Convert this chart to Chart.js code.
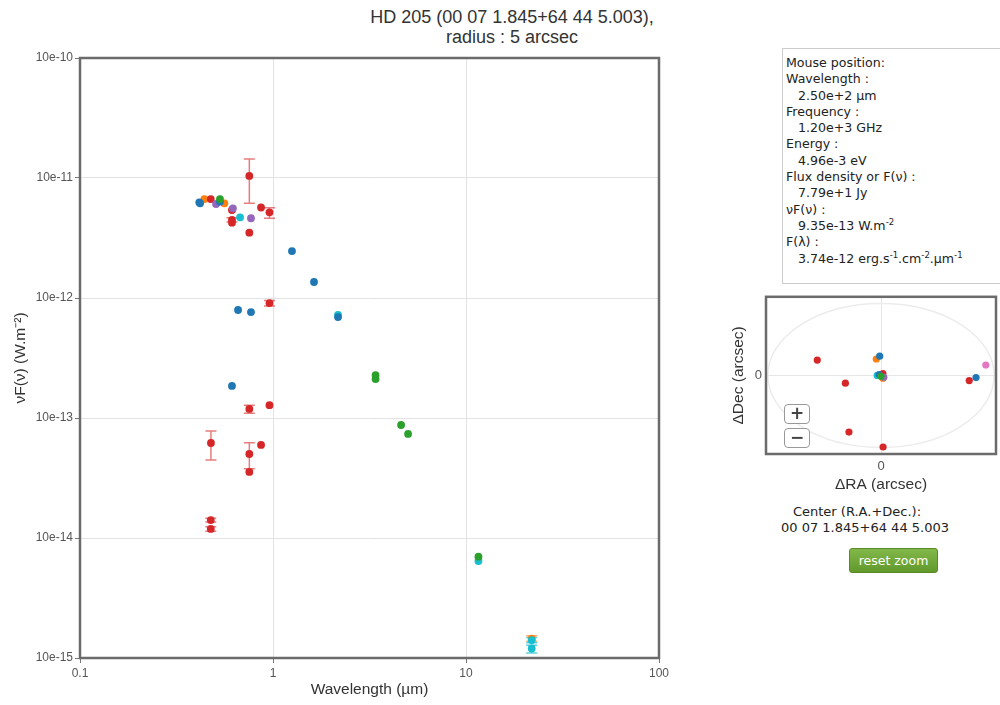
<!DOCTYPE html>
<html>
<head>
<meta charset="utf-8">
<script src="https://cdn.jsdelivr.net/npm/chart.js"></script>
<style>
  html, body { margin: 0; padding: 0; background: #fff; overflow: hidden; }
  body { width: 1000px; height: 705px; position: relative; font-family: 'DejaVu Sans', sans-serif; color: #222; }
  #sedTitle { position: absolute; left: 312px; top: 7px; width: 400px; text-align: center;
    font: 18px/20px 'Liberation Sans', Arial, sans-serif; color: #333; }
  #sed { position: absolute; left: 0; top: 0; }
  #pos { position: absolute; left: 726px; top: 285px; }
  #info { position: absolute; left: 782px; top: 48px; width: 240px; height: 236px; box-sizing: border-box;
    border: 1px solid #ccc; padding: 6px 0 0 3px; font-size: 12.6px; line-height: 16.3px; color: #222; }
  #info .v { padding-left: 12px; }
  #info sup { font-size: 8.5px; line-height: 0; vertical-align: 5px; }
  .zbtn { position: absolute; left: 784px; width: 26px; height: 20px; box-sizing: border-box;
    border: 1px solid #999; border-radius: 4px; background: #fff; color: #444;
    font: bold 17px/17px 'DejaVu Sans', sans-serif; text-align: center; }
  .center { position: absolute; width: 220px; text-align: center; font-size: 13px; color: #222; }
  #reset { position: absolute; left: 849px; top: 548px; width: 89px; height: 25px; box-sizing: border-box;
    border: 1px solid #5a8a26; border-radius: 3px; background: linear-gradient(#82b84a, #62992c);
    color: #fff; font-size: 12.5px; line-height: 23px; text-align: center; }
</style>
</head>
<body>
<div id="sedTitle">HD 205 (00 07 1.845+64 44 5.003),<br>radius : 5 arcsec</div>
<canvas id="sed" width="690" height="705"></canvas>

<div id="info">
  <div>Mouse position:</div>
  <div>Wavelength :</div>
  <div class="v">2.50e+2 µm</div>
  <div>Frequency :</div>
  <div class="v">1.20e+3 GHz</div>
  <div>Energy :</div>
  <div class="v">4.96e-3 eV</div>
  <div>Flux density or F(ν) :</div>
  <div class="v">7.79e+1 Jy</div>
  <div>νF(ν) :</div>
  <div class="v">9.35e-13 W.m<sup>-2</sup></div>
  <div>F(λ) :</div>
  <div class="v">3.74e-12 erg.s<sup>-1</sup>.cm<sup>-2</sup>.µm<sup>-1</sup></div>
</div>

<canvas id="pos" width="274" height="216"></canvas>
<div class="zbtn" style="top:404px">+</div>
<div class="zbtn" style="top:428px">−</div>

<div class="center" style="left:747px; top:504px">Center (R.A.+Dec.):</div>
<div class="center" style="left:755px; top:520px">00 07 1.845+64 44 5.003</div>
<div id="reset">reset zoom</div>

<script>
// ---- SED data (wavelength in µm, nuFnu in W/m2) ----
const xTicks = [0.1, 1, 10, 100];
const xTickLabels = ['0.1', '1', '10', '100'];
const yTicks = [1e-15, 1e-14, 1e-13, 1e-12, 1e-11, 1e-10];
const yTickLabels = ['10e-15', '10e-14', '10e-13', '10e-12', '10e-11', '10e-10'];

const blueWl   = [0.415, 0.419, 0.531, 1.254, 1.631, 2.172, 0.659, 0.769, 0.613];
const blueFlux = [6.27e-12, 6.15e-12, 6.35e-12, 2.46e-12, 1.36e-12, 6.94e-13, 7.94e-13, 7.64e-13, 1.85e-13];

const orangeWl    = [0.441, 0.560, 21.9];
const orangeFlux  = [6.68e-12, 6.15e-12, 1.45e-15];
const orangeErrLo = [null, null, 1.38e-15];
const orangeErrHi = [null, null, 1.53e-15];

const redWl    = [0.476, 0.613, 0.613, 0.613, 0.754, 0.754, 0.867, 0.959, 0.959, 0.754, 0.959, 0.477, 0.754, 0.867, 0.754, 0.476, 0.476];
const redFlux  = [6.68e-12, 5.41e-12, 4.47e-12, 4.24e-12, 1.04e-11, 3.50e-12, 5.68e-12, 5.18e-12, 9.08e-13, 1.19e-13, 1.28e-13, 6.19e-14, 5.01e-14, 5.96e-14, 3.55e-14, 1.41e-14, 1.19e-14];
const redErrLo = [null, null, 4.30e-12, null, 6.15e-12, null, null, 4.62e-12, 8.59e-13, 1.094e-13, null, 4.47e-14, 3.78e-14, null, null, 1.36e-14, 1.14e-14];
const redErrHi = [null, null, 4.66e-12, null, 1.44e-11, null, null, 5.65e-12, 9.53e-13, 1.276e-13, null, 7.80e-14, 6.22e-14, null, null, 1.46e-14, 1.24e-14];

const purpleWl   = [0.507, 0.620, 0.769];
const purpleFlux = [6.07e-12, 5.59e-12, 4.62e-12];

const greenWl   = [0.531, 3.40, 3.40, 4.61, 5.01, 11.6];
const greenFlux = [6.68e-12, 2.28e-13, 2.11e-13, 8.74e-14, 7.36e-14, 6.99e-15];

const cyanWl    = [0.675, 2.172, 11.6, 21.9, 21.9];
const cyanFlux  = [4.70e-12, 7.22e-13, 6.43e-15, 1.41e-15, 1.20e-15];
const cyanErrLo = [null, null, null, 1.34e-15, 1.10e-15];
const cyanErrHi = [null, null, null, 1.48e-15, 1.28e-15];

// ---- position offsets around centre (arcsec) ----
const redDRA    = [-3.38, -1.89, -1.70, 0.11, 4.68, 0.10];
const redDDec   = [0.83, -0.42, -3.07, -3.88, -0.28, 0.10];
const orangeDRA = [-0.25, 0.10];
const orangeDDec= [0.89, -0.15];
const blueDRA   = [-0.07, 5.04, -0.10];
const blueDDec  = [1.04, -0.12, 0.05];
const cyanDRA   = [-0.20];
const cyanDDec  = [0.00];
const greenDRA  = [0.00];
const greenDDec = [-0.05];
const purpleDRA = [0.15];
const purpleDDec= [-0.10];
const pinkDRA   = [5.56];
const pinkDDec  = [0.56];

const zip = (xs, ys) => xs.map((x, i) => ({x: x, y: ys[i]}));

const FONT = "'Liberation Sans', Arial, sans-serif";

const frame = {
  id: 'frame',
  beforeDatasetsDraw(chart) {
    const a = chart.chartArea, ctx = chart.ctx;
    ctx.save();
    ctx.strokeStyle = '#6b6b6b';
    ctx.lineWidth = 2.5;
    ctx.strokeRect(a.left, a.top, a.right - a.left, a.bottom - a.top);
    ctx.restore();
  }
};

const errorBars = {
  id: 'errorBars',
  beforeDatasetsDraw(chart) {
    const {ctx, scales: {x, y}} = chart;
    chart.data.datasets.forEach(ds => {
      if (!ds.errLo) return;
      ctx.save();
      ctx.strokeStyle = ds.errColor;
      ctx.lineWidth = 1.5;
      ds.data.forEach((p, i) => {
        if (ds.errLo[i] == null) return;
        const px = x.getPixelForValue(p.x);
        const y1 = y.getPixelForValue(ds.errLo[i]);
        const y2 = y.getPixelForValue(ds.errHi[i]);
        ctx.beginPath();
        ctx.moveTo(px, y1); ctx.lineTo(px, y2);
        ctx.moveTo(px - 5.5, y1); ctx.lineTo(px + 5.5, y1);
        ctx.moveTo(px - 5.5, y2); ctx.lineTo(px + 5.5, y2);
        ctx.stroke();
      });
      ctx.restore();
    });
  }
};

function pts(label, color, xs, ys, extra) {
  return Object.assign({
    label: label, data: zip(xs, ys), backgroundColor: color,
    borderWidth: 0, pointRadius: 3.9, pointHoverRadius: 3.9
  }, extra || {});
}

new Chart(document.getElementById('sed'), {
  type: 'scatter',
  data: {
    datasets: [
      pts('green', '#2ca02c', greenWl, greenFlux),
      pts('blue', '#1f77b4', blueWl, blueFlux),
      pts('cyan', '#17becf', cyanWl, cyanFlux, {errLo: cyanErrLo, errHi: cyanErrHi, errColor: 'rgba(23,190,207,0.7)'}),
      pts('purple', '#9467bd', purpleWl, purpleFlux),
      pts('red', '#d62728', redWl, redFlux, {errLo: redErrLo, errHi: redErrHi, errColor: 'rgba(214,39,40,0.6)'}),
      pts('orange', '#ff7f0e', orangeWl, orangeFlux, {errLo: orangeErrLo, errHi: orangeErrHi, errColor: 'rgba(255,127,14,0.6)'})
    ]
  },
  options: {
    responsive: false,
    animation: false,
    layout: { padding: { top: 58, right: 31, left: 0, bottom: 0 } },
    plugins: { legend: { display: false }, tooltip: { enabled: false } },
    scales: {
      x: {
        type: 'logarithmic', min: 0.1, max: 100,
        afterBuildTicks: s => { s.ticks = xTicks.map(v => ({value: v})); },
        afterFit: s => { s.height = 47; },
        ticks: { callback: (v, i) => xTickLabels[i], font: { family: FONT, size: 12 }, color: '#555', padding: 3, maxRotation: 0 },
        grid: { color: '#e2e2e2', tickLength: 5, tickColor: '#777' },
        border: { display: false },
        title: { display: true, text: 'Wavelength (µm)', font: { family: FONT, size: 15.5 }, color: '#333', padding: { top: 0, bottom: 6 } }
      },
      y: {
        type: 'logarithmic', min: 1e-15, max: 1e-10,
        afterBuildTicks: s => { s.ticks = yTicks.map(v => ({value: v})); },
        afterFit: s => { s.width = 80; },
        ticks: { callback: (v, i) => yTickLabels[i], font: { family: FONT, size: 12 }, color: '#555', padding: 2 },
        grid: { color: '#e2e2e2', tickLength: 5, tickColor: '#777' },
        border: { display: false },
        title: { display: true, text: 'νF(ν) (W.m⁻²)', font: { family: FONT, size: 15.5 }, color: '#333', padding: { top: 11, bottom: 0 } }
      }
    }
  },
  plugins: [frame, errorBars]
});

// search area outline in the position panel
const searchArea = {
  id: 'searchArea',
  beforeDatasetsDraw(chart) {
    const {ctx, scales: {x, y}} = chart;
    const cx = x.getPixelForValue(0), cy = y.getPixelForValue(0);
    const rx = Math.abs(x.getPixelForValue(6.0) - cx), ry = Math.abs(y.getPixelForValue(3.9) - cy);
    ctx.save();
    ctx.strokeStyle = '#ececec';
    ctx.lineWidth = 1.5;
    ctx.beginPath();
    ctx.ellipse(cx, cy, rx, ry, 0, 0, Math.PI * 2);
    ctx.stroke();
    ctx.restore();
  }
};

function dots(color, xs, ys) {
  return { data: zip(xs, ys), backgroundColor: color, borderWidth: 0, pointRadius: 3.6 };
}

new Chart(document.getElementById('pos'), {
  type: 'scatter',
  data: {
    datasets: [
      dots('#2ca02c', greenDRA, greenDDec),
      dots('#9467bd', purpleDRA, purpleDDec),
      dots('#1f77b4', blueDRA, blueDDec),
      dots('#17becf', cyanDRA, cyanDDec),
      dots('#ff7f0e', orangeDRA, orangeDDec),
      dots('#d62728', redDRA, redDDec),
      dots('#e377c2', pinkDRA, pinkDDec)
    ]
  },
  options: {
    responsive: false,
    animation: false,
    layout: { padding: { top: 7, right: 2, left: 0, bottom: 0 } },
    plugins: { legend: { display: false }, tooltip: { enabled: false } },
    scales: {
      x: {
        type: 'linear', min: -6.1, max: 6.1,
        afterBuildTicks: s => { s.ticks = [{value: 0}]; },
        afterFit: s => { s.height = 47; },
        ticks: { font: { family: FONT, size: 13 }, color: '#555', padding: 5 },
        grid: { color: '#e6e6e6', drawTicks: false },
        border: { display: false },
        title: { display: true, text: 'ΔRA (arcsec)', font: { family: FONT, size: 15.5 }, color: '#333', padding: { top: 0, bottom: 7 } }
      },
      y: {
        type: 'linear', min: -4.26, max: 4.26,
        afterBuildTicks: s => { s.ticks = [{value: 0}]; },
        afterFit: s => { s.width = 40; },
        ticks: { font: { family: FONT, size: 13 }, color: '#555', padding: 4 },
        grid: { color: '#e6e6e6', drawTicks: false },
        border: { display: false },
        title: { display: true, text: 'ΔDec (arcsec)', font: { family: FONT, size: 15.5 }, color: '#333', padding: { top: 3, bottom: 0 } }
      }
    }
  },
  plugins: [searchArea, frame]
});
</script>
</body>
</html>
